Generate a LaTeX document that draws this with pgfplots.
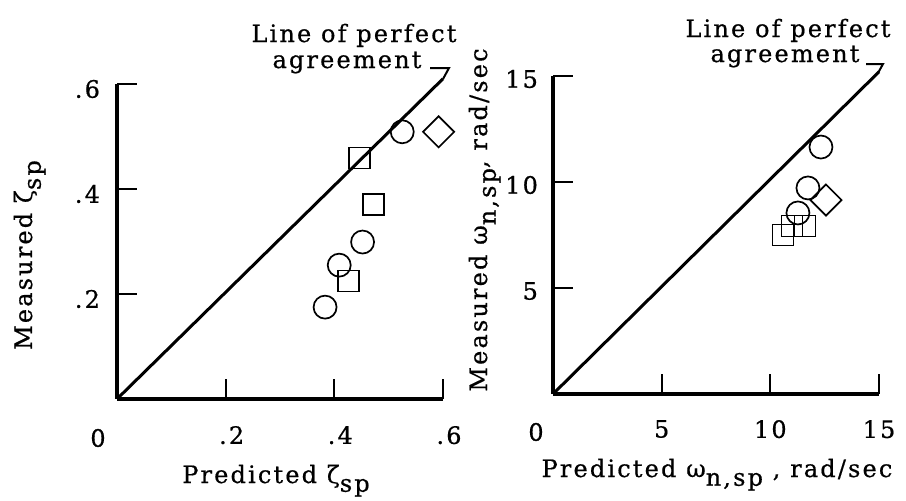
\documentclass[border=0pt]{standalone}
\usepackage{fontspec}
\setmainfont{DejaVu Serif}[LetterSpace=9, FakeBold=0.6]
\usepackage{pgfplots}
\pgfplotsset{compat=1.18}

% lowered, full-size subscript as typed on the original figure
\newcommand{\lo}[1]{\raisebox{-0.7ex}{#1}}

\pgfplotsset{
  agree/.style={
    scale only axis, clip=false, anchor=south west,
    axis x line*=bottom, axis y line*=left,
    axis line style={line width=2pt,-},
    tick align=inside, major tick length=10pt,
    major tick style={line width=1pt, black},
    /pgf/number format/assume math mode=true,
    tick label style={font=\fontsize{12}{14}\selectfont},
  },
  pts/.style={only marks, black, line width=0.85pt, mark options={solid, fill=none}},
  perfect/.style={black, line width=1.5pt, no marks},
}

\begin{document}
\begin{tikzpicture}
\useasboundingbox (0,0) rectangle (453pt,-250pt);

% ---- damping ratio ----
\begin{axis}[agree, at={(58.5pt,-199.5pt)}, width=163pt, height=157.5pt,
  xmin=0, xmax=0.6, ymin=0, ymax=0.6,
  xtick={0.2,0.4,0.6}, xticklabels={.2,.4,.6},
  ytick={0.2,0.4,0.6}, yticklabels={.2,.4,.6},
  xticklabel style={yshift=-10pt, xshift=3pt},
  yticklabel style={xshift=-5pt, yshift=-2.5pt}]
  \addplot[perfect] coordinates {(0,0) (0.6,0.61)};
  \addplot[pts, mark=o, mark size=5.75pt] coordinates {
    (0.525,0.509) (0.452,0.299) (0.409,0.255) (0.383,0.175)};
  \addplot[pts, mark=square, mark size=5.25pt] coordinates {
    (0.446,0.459) (0.472,0.370) (0.426,0.225)};
  \addplot[pts, mark=square, mark size=5.5pt, mark options={rotate=45}] coordinates {
    (0.592,0.509)};
\end{axis}

% ---- natural frequency ----
\begin{axis}[agree, at={(276.5pt,-197pt)}, width=163pt, height=159pt,
  xmin=0, xmax=15, ymin=0, ymax=15,
  xtick={5,10,15}, ytick={5,10,15},
  xticklabel style={yshift=-9.5pt},
  yticklabel style={xshift=-4pt, yshift=-1.5pt}]
  \addplot[perfect] coordinates {(0,0) (15,15.2)};
  \addplot[pts, mark=o, mark size=5.75pt] coordinates {
    (12.33,11.65) (11.73,9.72) (11.27,8.54)};
  \addplot[pts, mark=square, mark size=5.25pt] coordinates {
    (11.0,7.92) (11.6,7.92) (10.58,7.5)};
  \addplot[pts, mark=square, mark size=5.5pt, mark options={rotate=45}] coordinates {
    (12.56,9.15)};
\end{axis}

% ---- labels and annotations ----
\begin{scope}[x=0.5pt, y=-0.5pt, font=\fontsize{12}{14}\selectfont]
  \node[font=\fontsize{12}{14}\selectfont] at (98,438) {0};
  \node[font=\fontsize{12}{14}\selectfont] at (536,432) {0};

  \node[anchor=base] at (276,483) {Predicted ζ\lo{sp}};
  \node[anchor=base, rotate=90] at (32,255) {Measured ζ\lo{sp}};

  \node[anchor=base] at (717,477) {Predicted ω\lo{n,sp} , rad/sec};
  \node[anchor=base, rotate=90] at (487,220) {Measured ω\lo{n,sp}, rad/sec};

  \node[anchor=base] at (354,42) {Line of perfect};
  \node[anchor=base] at (347,68) {agreement};
  \draw[line width=1pt] (430,68) -- (449,68) -- (443,79);

  \node[anchor=base] at (788,37) {Line of perfect};
  \node[anchor=base] at (785,62) {agreement};
  \draw[line width=1pt] (866,64) -- (883,64) -- (878,73);
\end{scope}
\end{tikzpicture}
\end{document}
